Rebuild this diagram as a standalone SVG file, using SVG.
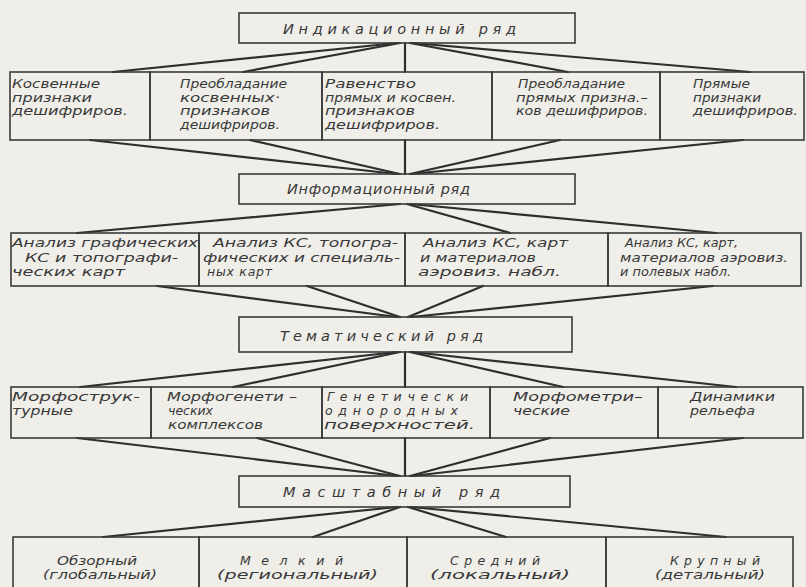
<svg xmlns="http://www.w3.org/2000/svg" width="806" height="587" viewBox="0 0 806 587">
<style>
.bg{fill:#efeee9}
.box{fill:none;stroke:#3a3a3a;stroke-width:1.6}
.c{stroke:#2e2e2e;stroke-width:2.2;fill:none;stroke-linecap:round}
text{font-family:"DejaVu Sans","Liberation Sans",sans-serif;font-style:italic;font-size:12.5px;fill:#383838}
.t{font-size:14.5px}
</style>
<rect class="bg" x="0" y="0" width="806" height="587"/>
<g id="connectors">
<line class="c" x1="397" y1="43" x2="113" y2="72"/>
<line class="c" x1="400" y1="43" x2="243" y2="72"/>
<line class="c" x1="405" y1="43" x2="405" y2="72"/>
<line class="c" x1="410" y1="43" x2="568" y2="72"/>
<line class="c" x1="412" y1="43" x2="750" y2="72"/>
<line class="c" x1="90" y1="140" x2="397" y2="174"/>
<line class="c" x1="250" y1="140" x2="400" y2="174"/>
<line class="c" x1="405" y1="140" x2="405" y2="174"/>
<line class="c" x1="560" y1="140" x2="410" y2="174"/>
<line class="c" x1="743" y1="140" x2="412" y2="174"/>
<line class="c" x1="400" y1="204" x2="77" y2="233"/>
<line class="c" x1="407" y1="204" x2="510" y2="233"/>
<line class="c" x1="410" y1="204" x2="716" y2="233"/>
<line class="c" x1="157" y1="286" x2="397" y2="317"/>
<line class="c" x1="307" y1="286" x2="400" y2="317"/>
<line class="c" x1="483" y1="286" x2="408" y2="317"/>
<line class="c" x1="713" y1="286" x2="411" y2="317"/>
<line class="c" x1="397" y1="352" x2="80" y2="387"/>
<line class="c" x1="400" y1="352" x2="233" y2="387"/>
<line class="c" x1="405" y1="352" x2="405" y2="387"/>
<line class="c" x1="410" y1="352" x2="563" y2="387"/>
<line class="c" x1="412" y1="352" x2="736" y2="387"/>
<line class="c" x1="77" y1="438" x2="397" y2="476"/>
<line class="c" x1="257" y1="438" x2="400" y2="476"/>
<line class="c" x1="405" y1="438" x2="405" y2="476"/>
<line class="c" x1="550" y1="438" x2="410" y2="476"/>
<line class="c" x1="743" y1="438" x2="412" y2="476"/>
<line class="c" x1="397" y1="507" x2="103" y2="537"/>
<line class="c" x1="400" y1="507" x2="313" y2="537"/>
<line class="c" x1="408" y1="507" x2="506" y2="537"/>
<line class="c" x1="411" y1="507" x2="726" y2="537"/>
</g>
<g id="indik">
<rect class="box" x="239" y="13" width="336" height="30"/>
<text class="t" x="283" y="34" textLength="233" lengthAdjust="spacing">Индикационный  ряд</text>
</g>
<g id="r1a">
<rect class="box" x="10" y="72" width="140" height="68"/>
<text x="12" y="88" textLength="88" lengthAdjust="spacingAndGlyphs">Косвенные</text>
<text x="12" y="101.5" textLength="80" lengthAdjust="spacingAndGlyphs">признаки</text>
<text x="12" y="115" textLength="116" lengthAdjust="spacingAndGlyphs">дешифриров.</text>
</g>
<g id="r1b">
<rect class="box" x="150" y="72" width="172" height="68"/>
<text x="180" y="88" textLength="107" lengthAdjust="spacingAndGlyphs">Преобладание</text>
<text x="180" y="101.5" textLength="100" lengthAdjust="spacingAndGlyphs">косвенных·</text>
<text x="180" y="115" textLength="90" lengthAdjust="spacingAndGlyphs">признаков</text>
<text x="180" y="128.5" textLength="100" lengthAdjust="spacingAndGlyphs">дешифриров.</text>
</g>
<g id="r1c">
<rect class="box" x="322" y="72" width="170" height="68"/>
<text x="325" y="88" textLength="91" lengthAdjust="spacingAndGlyphs">Равенство</text>
<text x="325" y="101.5" textLength="131" lengthAdjust="spacingAndGlyphs">прямых и косвен.</text>
<text x="325" y="115" textLength="90" lengthAdjust="spacingAndGlyphs">признаков</text>
<text x="325" y="128.5" textLength="115" lengthAdjust="spacingAndGlyphs">дешифриров.</text>
</g>
<g id="r1d">
<rect class="box" x="492" y="72" width="168" height="68"/>
<text x="518" y="88" textLength="107" lengthAdjust="spacingAndGlyphs">Преобладание</text>
<text x="516" y="101.5" textLength="132" lengthAdjust="spacingAndGlyphs">прямых призна.–</text>
<text x="516" y="115" textLength="132" lengthAdjust="spacingAndGlyphs">ков дешифриров.</text>
</g>
<g id="r1e">
<rect class="box" x="660" y="72" width="144" height="68"/>
<text x="693" y="88" textLength="57" lengthAdjust="spacingAndGlyphs">Прямые</text>
<text x="693" y="101.5" textLength="68" lengthAdjust="spacingAndGlyphs">признаки</text>
<text x="693" y="115" textLength="105" lengthAdjust="spacingAndGlyphs">дешифриров.</text>
</g>
<g id="inform">
<rect class="box" x="239" y="174" width="336" height="30"/>
<text class="t" x="287" y="194" textLength="183" lengthAdjust="spacing">Информационный  ряд</text>
</g>
<g id="r2a">
<rect class="box" x="11" y="233" width="188" height="53"/>
<text x="12" y="247" textLength="186" lengthAdjust="spacingAndGlyphs">Анализ графических</text>
<text x="25" y="261.5" textLength="153" lengthAdjust="spacingAndGlyphs">КС и топографи-</text>
<text x="12" y="276" textLength="113" lengthAdjust="spacingAndGlyphs">ческих карт</text>
</g>
<g id="r2b">
<rect class="box" x="199" y="233" width="206" height="53"/>
<text x="213" y="247" textLength="185" lengthAdjust="spacingAndGlyphs">Анализ КС, топогра-</text>
<text x="203" y="261.5" textLength="197" lengthAdjust="spacingAndGlyphs">фических и специаль-</text>
<text x="207" y="276" textLength="65" lengthAdjust="spacing">ных  карт</text>
</g>
<g id="r2c">
<rect class="box" x="405" y="233" width="203" height="53"/>
<text x="423" y="247" textLength="145" lengthAdjust="spacingAndGlyphs">Анализ КС, карт</text>
<text x="420" y="261.5" textLength="116" lengthAdjust="spacingAndGlyphs">и материалов</text>
<text x="418" y="276" textLength="143" lengthAdjust="spacingAndGlyphs">аэровиз. набл.</text>
</g>
<g id="r2d">
<rect class="box" x="608" y="233" width="193" height="53"/>
<text x="625" y="247" textLength="113" lengthAdjust="spacingAndGlyphs">Анализ КС, карт,</text>
<text x="620" y="261.5" textLength="168" lengthAdjust="spacingAndGlyphs">материалов аэровиз.</text>
<text x="620" y="276" textLength="111" lengthAdjust="spacingAndGlyphs">и полевых набл.</text>
</g>
<g id="temat">
<rect class="box" x="239" y="317" width="333" height="35"/>
<text class="t" x="280" y="341" textLength="203" lengthAdjust="spacing">Тематический  ряд</text>
</g>
<g id="r3a">
<rect class="box" x="11" y="387" width="140" height="51"/>
<text x="12" y="401" textLength="128" lengthAdjust="spacingAndGlyphs">Морфострук-</text>
<text x="12" y="415" textLength="61" lengthAdjust="spacingAndGlyphs">турные</text>
</g>
<g id="r3b">
<rect class="box" x="151" y="387" width="171" height="51"/>
<text x="167" y="401" textLength="130" lengthAdjust="spacingAndGlyphs">Морфогенети –</text>
<text x="168" y="415" textLength="45" lengthAdjust="spacingAndGlyphs">ческих</text>
<text x="168" y="429" textLength="95" lengthAdjust="spacingAndGlyphs">комплексов</text>
</g>
<g id="r3c">
<rect class="box" x="322" y="387" width="168" height="51"/>
<text x="327" y="401" textLength="141" lengthAdjust="spacing">Генетически</text>
<text x="325" y="415" textLength="133" lengthAdjust="spacing">однородных</text>
<text x="324" y="429" textLength="151" lengthAdjust="spacingAndGlyphs">поверхностей.</text>
</g>
<g id="r3d">
<rect class="box" x="490" y="387" width="168" height="51"/>
<text x="513" y="401" textLength="130" lengthAdjust="spacingAndGlyphs">Морфометри–</text>
<text x="513" y="415" textLength="57" lengthAdjust="spacingAndGlyphs">ческие</text>
</g>
<g id="r3e">
<rect class="box" x="658" y="387" width="145" height="51"/>
<text x="690" y="401" textLength="85" lengthAdjust="spacingAndGlyphs">Динамики</text>
<text x="690" y="415" textLength="65" lengthAdjust="spacingAndGlyphs">рельефа</text>
</g>
<g id="masht">
<rect class="box" x="239" y="476" width="331" height="31"/>
<text class="t" x="283" y="497" textLength="217" lengthAdjust="spacing">Масштабный  ряд</text>
</g>
<g id="r4a">
<rect class="box" x="13" y="537" width="186" height="60"/>
<text x="57" y="565" textLength="80" lengthAdjust="spacingAndGlyphs">Обзорный</text>
<text x="43" y="579" textLength="114" lengthAdjust="spacingAndGlyphs">(глобальный)</text>
</g>
<g id="r4b">
<rect class="box" x="199" y="537" width="208" height="60"/>
<text x="240" y="565" textLength="103" lengthAdjust="spacing">Мелкий</text>
<text x="217" y="579" textLength="161" lengthAdjust="spacingAndGlyphs">(региональный)</text>
</g>
<g id="r4c">
<rect class="box" x="407" y="537" width="199" height="60"/>
<text x="450" y="565" textLength="90" lengthAdjust="spacing">Средний</text>
<text x="430" y="579" textLength="140" lengthAdjust="spacingAndGlyphs">(локальный)</text>
</g>
<g id="r4d">
<rect class="box" x="606" y="537" width="187" height="60"/>
<text x="670" y="565" textLength="90" lengthAdjust="spacing">Крупный</text>
<text x="655" y="579" textLength="110" lengthAdjust="spacingAndGlyphs">(детальный)</text>
</g>
</svg>
